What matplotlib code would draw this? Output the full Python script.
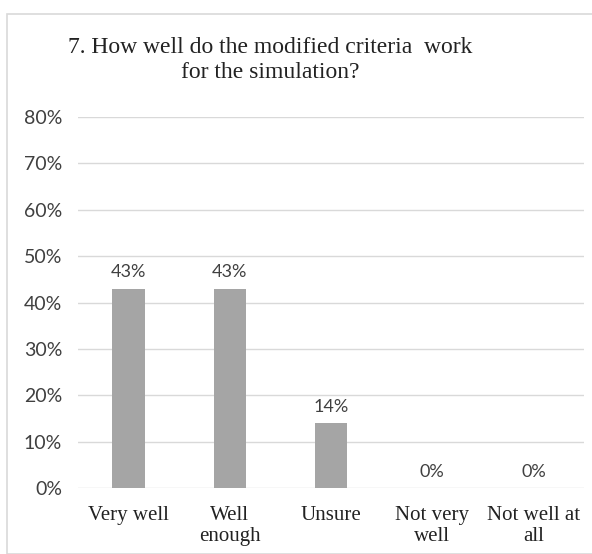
import matplotlib.pyplot as plt
from matplotlib.patches import Rectangle

categories = ["Very well", "Well\nenough", "Unsure", "Not very\nwell", "Not well at\nall"]
values = [43, 43, 14, 0, 0]
yticks = [0, 10, 20, 30, 40, 50, 60, 70, 80]

fig = plt.figure(figsize=(5.92, 5.54), dpi=100)
fig.patches.append(Rectangle((7 / 592, 0), 1, 1 - 14 / 554, transform=fig.transFigure,
                             fill=False, edgecolor="#d9d9d9", linewidth=1.2))
ax = fig.add_axes([0.1318, 0.1191, 0.8547, 0.6697])

x = list(range(len(categories)))
ax.bar(x, values, width=0.32, color="#a5a5a5", zorder=3)
for xi, v in zip(x, values):
    ax.text(xi, v + 1.8, f"{v}%", ha="center", va="bottom", fontsize=13,
            family="Lato", color="#404040")

ax.set_xlim(-0.5, len(categories) - 0.5)
ax.set_ylim(0, 80)
ax.set_yticks(yticks)
ax.set_yticklabels([f"{t}%" for t in yticks], family="Lato", fontsize=14, color="#404040")
ax.set_xticks(x)
ax.set_xticklabels(categories, family="Liberation Serif", fontsize=15, color="#222222",
                   linespacing=1.15)
ax.tick_params(axis="x", length=0, pad=13)
ax.tick_params(axis="y", length=0, pad=11.5)
ax.grid(axis="y", color="#d9d9d9", linewidth=1)
for s in ax.spines.values():
    s.set_visible(False)

fig.text(0.457, 1 - 60 / 554, "7. How well do the modified criteria  work\nfor the simulation?",
         ha="center", va="center", family="Liberation Serif", fontsize=17,
         color="#222222", linespacing=1.25)

fig.savefig("out.png", dpi=100)
